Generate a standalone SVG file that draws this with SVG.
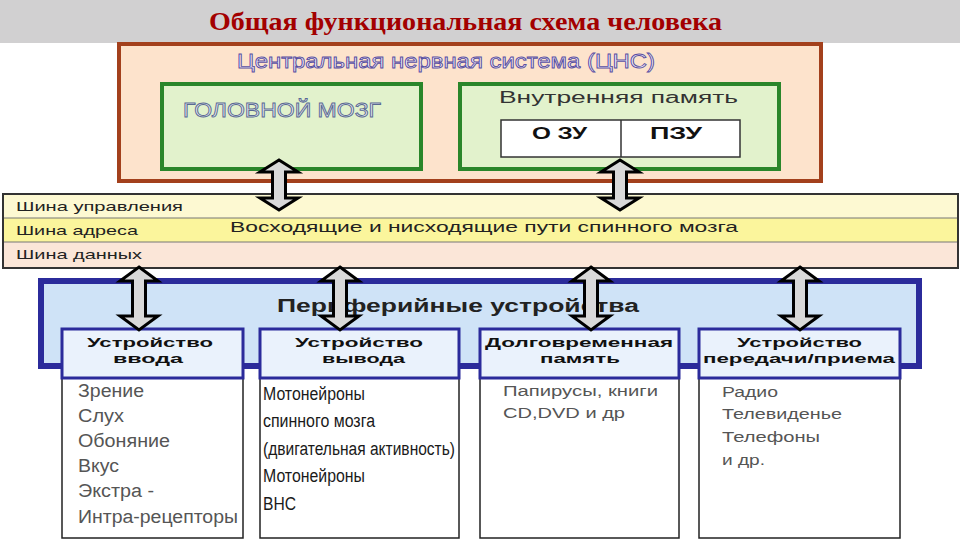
<svg xmlns="http://www.w3.org/2000/svg" xmlns:xlink="http://www.w3.org/1999/xlink" width="960" height="540" viewBox="0 0 960 540">
<style>
.sans{font-family:"Liberation Sans",Arial,sans-serif}
.bus{font-size:13px;fill:#222}
.hdr{font-size:13px;font-weight:bold;fill:#111}
.body1{font-size:18px;fill:#555}
.body2{font-size:18px;fill:#1a1a1a}
.body3{font-size:15.5px;fill:#555}
.hdrbox{fill:#eaf2fc;stroke:#2b2b9b;stroke-width:3}
.bodybox{fill:#fff;stroke:#222;stroke-width:1.5}
.arrow{fill:#d9d9d9;stroke:#000;stroke-width:3;stroke-linejoin:miter}
</style>
<defs>
<path id="arrowA" class="arrow" d="M0,0 L19,12 L6.5,12 L6.5,38 L19,38 L0,50 L-19,38 L-6.5,38 L-6.5,12 L-19,12 Z"/>
<path id="arrowB" class="arrow" d="M0,0 L19,14 L6.5,14 L6.5,49 L19,49 L0,63 L-19,49 L-6.5,49 L-6.5,14 L-19,14 Z"/>
</defs>
<rect x="0" y="0" width="960" height="540" fill="#fff"/>
<g id="title">
<rect x="0" y="0" width="960" height="43" fill="#d1d0d1"/>
<text x="209" y="30" font-family="'Liberation Serif',serif" font-weight="bold" font-size="26" fill="#a30000" textLength="513" lengthAdjust="spacingAndGlyphs">Общая функциональная схема человека</text>
</g>
<g id="cns">
<rect x="119" y="44" width="702" height="137" fill="#fde3cc" stroke="#a3401c" stroke-width="4"/>
<text class="sans" x="237" y="68" font-size="21" fill="#f6f2ff" stroke="#5a4fa0" stroke-width="0.9" textLength="418" lengthAdjust="spacingAndGlyphs">Центральная нервная система (ЦНС)</text>
</g>
<g id="brain">
<rect x="162" y="84" width="259" height="85" fill="#e2f2cc" stroke="#2a862a" stroke-width="4"/>
<text class="sans" x="183" y="117" font-size="21" fill="#e8eaf2" stroke="#5a6a92" stroke-width="0.9" textLength="198" lengthAdjust="spacingAndGlyphs">ГОЛОВНОЙ МОЗГ</text>
</g>
<g id="memory">
<rect x="460" y="84" width="319" height="85" fill="#e2f2cc" stroke="#2a862a" stroke-width="4"/>
<text class="sans" x="499" y="103" font-size="16" fill="#333" textLength="239" lengthAdjust="spacingAndGlyphs">Внутренняя память</text>
<rect x="501" y="120" width="239" height="37" fill="#fff" stroke="#333" stroke-width="1.5"/>
<line x1="621" y1="120" x2="621" y2="157" stroke="#333" stroke-width="1.5"/>
<text class="sans" x="532" y="139" font-size="16" font-weight="bold" fill="#111" textLength="55" lengthAdjust="spacingAndGlyphs">О ЗУ</text>
<text class="sans" x="650" y="139" font-size="16" font-weight="bold" fill="#111" textLength="52" lengthAdjust="spacingAndGlyphs">ПЗУ</text>
</g>
<g id="bus">
<rect x="3" y="194" width="955" height="24" fill="#fdf9d2"/>
<rect x="3" y="218" width="955" height="24" fill="#fbf59c"/>
<rect x="3" y="242" width="955" height="26" fill="#fbe6d8"/>
<line x1="3" y1="218" x2="958" y2="218" stroke="#777" stroke-width="1"/>
<line x1="3" y1="242" x2="958" y2="242" stroke="#777" stroke-width="1"/>
<rect x="3" y="194" width="955" height="74" fill="none" stroke="#333" stroke-width="2"/>
<text class="sans bus" x="16" y="211" textLength="167" lengthAdjust="spacingAndGlyphs">Шина управления</text>
<text class="sans bus" x="16" y="235" textLength="122" lengthAdjust="spacingAndGlyphs">Шина адреса</text>
<text class="sans bus" x="16" y="259" textLength="126" lengthAdjust="spacingAndGlyphs">Шина данных</text>
<text class="sans" x="230" y="232" font-size="15.5" fill="#222" textLength="508" lengthAdjust="spacingAndGlyphs">Восходящие и нисходящие пути спинного мозга</text>
</g>
<g id="peripheral">
<rect x="41" y="281" width="878" height="85" fill="#cfe3f7" stroke="#2b2b9b" stroke-width="6"/>
<text class="sans" x="277" y="312" font-size="18" font-weight="600" fill="#222" textLength="362" lengthAdjust="spacingAndGlyphs">Периферийные устройства</text>
</g>
<g id="input">
<rect class="bodybox" x="62" y="378" width="181" height="160"/>
<rect class="hdrbox" x="62" y="329" width="181" height="49"/>
<text class="sans hdr" x="87" y="347" textLength="126" lengthAdjust="spacingAndGlyphs">Устройство</text>
<text class="sans hdr" x="113" y="363" textLength="70" lengthAdjust="spacingAndGlyphs">ввода</text>
<text class="sans body1" x="78" y="397" textLength="66" lengthAdjust="spacingAndGlyphs">Зрение</text>
<text class="sans body1" x="78" y="422" textLength="46" lengthAdjust="spacingAndGlyphs">Слух</text>
<text class="sans body1" x="78" y="447" textLength="92" lengthAdjust="spacingAndGlyphs">Обоняние</text>
<text class="sans body1" x="78" y="472" textLength="41" lengthAdjust="spacingAndGlyphs">Вкус</text>
<text class="sans body1" x="78" y="497" textLength="76" lengthAdjust="spacingAndGlyphs">Экстра -</text>
<text class="sans body1" x="78" y="523" textLength="160" lengthAdjust="spacingAndGlyphs">Интра-рецепторы</text>
</g>
<g id="output">
<rect class="bodybox" x="260" y="378" width="199" height="160"/>
<rect class="hdrbox" x="260" y="329" width="199" height="49"/>
<text class="sans hdr" x="295" y="347" textLength="128" lengthAdjust="spacingAndGlyphs">Устройство</text>
<text class="sans hdr" x="322" y="363" textLength="83" lengthAdjust="spacingAndGlyphs">вывода</text>
<text class="sans body2" x="263" y="400" textLength="102" lengthAdjust="spacingAndGlyphs">Мотонейроны</text>
<text class="sans body2" x="263" y="427" textLength="112" lengthAdjust="spacingAndGlyphs">спинного мозга</text>
<text class="sans body2" x="263" y="455" textLength="192" lengthAdjust="spacingAndGlyphs">(двигательная активность)</text>
<text class="sans body2" x="263" y="482" textLength="102" lengthAdjust="spacingAndGlyphs">Мотонейроны</text>
<text class="sans body2" x="263" y="510" textLength="33" lengthAdjust="spacingAndGlyphs">ВНС</text>
</g>
<g id="longterm">
<rect class="bodybox" x="480" y="378" width="199" height="160"/>
<rect class="hdrbox" x="480" y="329" width="199" height="49"/>
<text class="sans hdr" x="485" y="347" textLength="188" lengthAdjust="spacingAndGlyphs">Долговременная</text>
<text class="sans hdr" x="540" y="363" textLength="80" lengthAdjust="spacingAndGlyphs">память</text>
<text class="sans body3" x="503" y="396" textLength="155" lengthAdjust="spacingAndGlyphs">Папирусы, книги</text>
<text class="sans body3" x="503" y="418" textLength="122" lengthAdjust="spacingAndGlyphs">CD,DVD  и др</text>
</g>
<g id="transfer">
<rect class="bodybox" x="699" y="378" width="201" height="160"/>
<rect class="hdrbox" x="699" y="329" width="201" height="49"/>
<text class="sans hdr" x="737" y="347" textLength="125" lengthAdjust="spacingAndGlyphs">Устройство</text>
<text class="sans hdr" x="703" y="363" textLength="192" lengthAdjust="spacingAndGlyphs">передачи/приема</text>
<text class="sans body3" x="722" y="397" textLength="56" lengthAdjust="spacingAndGlyphs">Радио</text>
<text class="sans body3" x="722" y="419" textLength="120" lengthAdjust="spacingAndGlyphs">Телевиденье</text>
<text class="sans body3" x="722" y="442" textLength="98" lengthAdjust="spacingAndGlyphs">Телефоны</text>
<text class="sans body3" x="722" y="465" textLength="43" lengthAdjust="spacingAndGlyphs">и др.</text>
</g>
<g id="connectors">
<use xlink:href="#arrowA" x="279" y="160"/>
<use xlink:href="#arrowA" x="620" y="160"/>
<use xlink:href="#arrowB" x="139" y="267"/>
<use xlink:href="#arrowB" x="340" y="267"/>
<use xlink:href="#arrowB" x="591" y="267"/>
<use xlink:href="#arrowB" x="800" y="267"/>
</g>
</svg>
